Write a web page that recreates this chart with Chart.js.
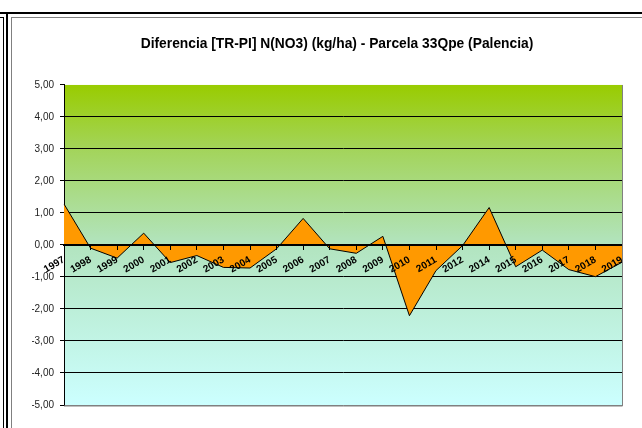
<!DOCTYPE html>
<html>
<head>
<meta charset="utf-8">
<script src="https://cdn.jsdelivr.net/npm/chart.js@4.4.1/dist/chart.umd.min.js"></script>
<style>
  html, body { margin: 0; padding: 0; background: #ffffff; }
  #wrap { position: relative; width: 642px; height: 428px; overflow: hidden; }
  #c { position: absolute; left: 0; top: 0; }
  .ln { position: absolute; }
</style>
</head>
<body>
<div id="wrap">
  <canvas id="c" width="642" height="428"></canvas>
  <div class="ln" style="left:0;top:17px;width:4px;height:1px;background:#000"></div>
  <div class="ln" style="left:3px;top:17px;width:1px;height:411px;background:#000"></div>
  <div class="ln" style="left:0;top:12px;width:642px;height:2px;background:#000"></div>
  <div class="ln" style="left:6px;top:12px;width:2px;height:416px;background:#000"></div>
  <div class="ln" style="left:11px;top:17px;width:631px;height:1px;background:#808080"></div>
  <div class="ln" style="left:11px;top:17px;width:1px;height:411px;background:#808080"></div>
</div>
<script>
const titleText = 'Diferencia [TR-PI] N(NO3) (kg/ha) - Parcela 33Qpe (Palencia)';
const years = ['1997','1998','1999','2000','2001','2002','2003','2004','2005','2006','2007',
               '2008','2009','2010','2011','2012','2014','2015','2016','2017','2018','2019'];
const diffValues = [1.28, -0.10, -0.41, 0.37, -0.55, -0.33, -0.70, -0.72, -0.12, 0.83, -0.12,
                    -0.26, 0.27, -2.21, -0.80, -0.02, 1.17, -0.68, -0.16, -0.77, -0.99, -0.54];
const yTickValues = [-5, -4, -3, -2, -1, 0, 1, 2, 3, 4, 5];
const yTickLabels = ['-5,00','-4,00','-3,00','-2,00','-1,00','0,00','1,00','2,00','3,00','4,00','5,00'];

const bgPlugin = {
  id: 'plotBg',
  beforeDraw(chart) {
    const {ctx, chartArea: a} = chart;
    const g = ctx.createLinearGradient(0, a.top, 0, a.bottom);
    g.addColorStop(0, '#99cc00');
    g.addColorStop(0.2, '#a3d45a');
    g.addColorStop(0.5, '#b2e4bf');
    g.addColorStop(1, '#ccffff');
    ctx.save();
    ctx.fillStyle = g;
    ctx.fillRect(a.left, a.top, a.right - a.left, a.bottom - a.top);
    ctx.restore();
  },
  afterDraw(chart) {
    const {ctx, chartArea: a} = chart;
    ctx.save();
    ctx.strokeStyle = '#808080';
    ctx.lineWidth = 1;
    ctx.beginPath();
    ctx.moveTo(Math.round(a.right) + 0.5, a.top);
    ctx.lineTo(Math.round(a.right) + 0.5, a.bottom + 1);
    ctx.lineTo(a.left, a.bottom + 1);
    ctx.stroke();
    ctx.restore();
  }
};

new Chart(document.getElementById('c'), {
  type: 'line',
  data: {
    labels: years,
    datasets: [{
      data: diffValues,
      fill: 'origin',
      backgroundColor: '#ff9900',
      borderColor: '#000000',
      borderWidth: 1,
      pointRadius: 0,
      tension: 0
    }]
  },
  plugins: [bgPlugin],
  options: {
    responsive: false,
    animation: false,
    layout: { padding: { left: 32, right: 0, top: 0, bottom: 23 } },
    plugins: {
      legend: { display: false },
      tooltip: { enabled: false },
      title: {
        display: true,
        text: titleText,
        color: '#000000',
        font: { family: 'Arial, "Liberation Sans", sans-serif', size: 13.8, weight: 'bold' },
        padding: { top: 35.7, bottom: 32.7 }
      }
    },
    scales: {
      x: {
        type: 'category',
        position: { y: 0 },
        offset: false,
        grid: { drawOnChartArea: false, drawTicks: true, tickLength: 4, color: '#000000', z: 1 },
        border: { display: true, color: '#000000', width: 2, z: 1 },
        ticks: {
          z: 1,
          autoSkip: false,
          minRotation: 30,
          maxRotation: 30,
          padding: 5,
          color: '#000000',
          font: { family: 'Arial, "Liberation Sans", sans-serif', size: 10, weight: 'bold' }
        }
      },
      y: {
        min: -5,
        max: 5,
        afterFit(scale) { scale.width = 32; },
        afterBuildTicks(scale) { scale.ticks = yTickValues.map(v => ({ value: v })); },
        grid: {
          color: (ctx) => {
            const v = ctx.tick ? ctx.tick.value : null;
            if (v === 5) return 'rgba(0,0,0,0)';
            if (v === -5) return '#808080';
            return '#000000';
          },
          tickColor: '#000000',
          tickLength: 4
        },
        border: { display: true, color: '#000000', width: 1 },
        ticks: {
          padding: 6,
          color: '#222222',
          font: { family: 'Arial, "Liberation Sans", sans-serif', size: 10 },
          callback: (v) => yTickLabels[yTickValues.indexOf(v)]
        }
      },
      yRight: {
        position: 'right',
        min: -5,
        max: 5,
        afterFit(scale) { scale.width = 20; },
        grid: { display: false, drawOnChartArea: false },
        border: { display: false },
        ticks: { display: false }
      }
    }
  }
});
</script>
</body>
</html>
